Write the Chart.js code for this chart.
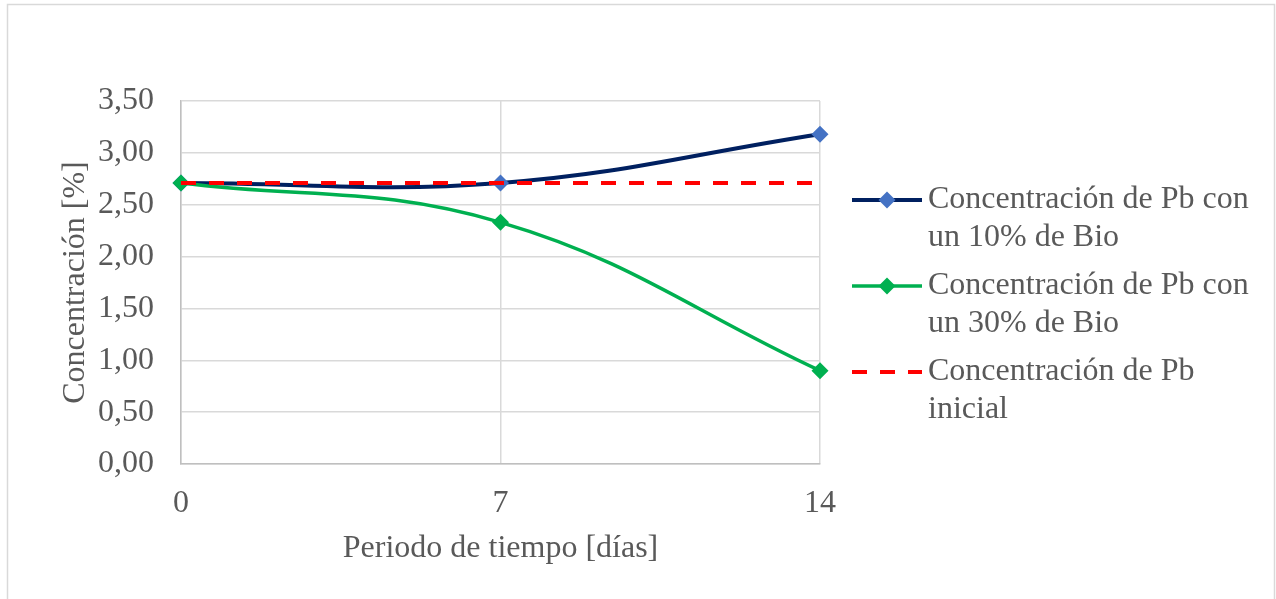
<!DOCTYPE html>
<html>
<head>
<meta charset="utf-8">
<script src="https://cdn.jsdelivr.net/npm/chart.js@4.4.1/dist/chart.umd.min.js"></script>
<style>
  html, body { margin: 0; padding: 0; background: #ffffff; }
  #wrap { width: 1276px; height: 599px; position: relative; }
</style>
</head>
<body>
<div id="wrap"><canvas id="c" width="1276" height="599"></canvas></div>
<script>
// Sampling days
const days = [0, 7, 14];

// Pb concentration (%) per series
const pb10 = [2.71, 2.71, 3.18];
const pb30 = [2.71, 2.33, 0.90];
const pbInicial = [2.71, 2.71, 2.71];

// Series names, split as they wrap in the legend
const name10 = ["Concentración de Pb con", "un 10% de Bio"];
const name30 = ["Concentración de Pb con", "un 30% de Bio"];
const nameInicial = ["Concentración de Pb", "inicial"];

// Axis texts and ticks
const xTitle = "Periodo de tiempo [días]";
const yTitle = "Concentración [%]";
const xTicks = [0, 7, 14];
const yTicks = [0, 0.5, 1, 1.5, 2, 2.5, 3, 3.5];

const FONT = "'Liberation Serif', 'Times New Roman', serif";
const TEXT = "#595959";
const FS = 32;

const toXY = (vals) => vals.map((v, i) => ({ x: days[i], y: v }));

// Outer frame of the chart object
const framePlugin = {
  id: 'frame',
  beforeDraw(chart) {
    const ctx = chart.ctx;
    ctx.save();
    ctx.fillStyle = '#ffffff';
    ctx.fillRect(0, 0, chart.width, chart.height);
    ctx.strokeStyle = '#d9d9d9';
    ctx.lineWidth = 1.5;
    ctx.strokeRect(7.5, 4.5, chart.width - 9, chart.height + 10);
    ctx.restore();
  }
};

// Legend on the right with wrapped names
const sideLegend = {
  id: 'sideLegend',
  afterDraw(chart) {
    const ctx = chart.ctx;
    const x0 = chart.chartArea.right + 32;
    const lineLen = 70;
    const textX = x0 + lineLen + 6;
    const rowH = 38;
    let y = 200;
    ctx.save();
    chart.data.datasets.forEach((ds) => {
      ctx.save();
      ctx.strokeStyle = ds.borderColor;
      ctx.lineWidth = ds.borderWidth;
      ctx.setLineDash(ds.borderDash || []);
      ctx.beginPath();
      ctx.moveTo(x0, y);
      ctx.lineTo(x0 + lineLen, y);
      ctx.stroke();
      ctx.restore();
      if (ds.pointRadius > 0) {
        const r = ds.pointRadius;
        const cx = x0 + lineLen / 2;
        ctx.fillStyle = ds.pointBackgroundColor;
        ctx.beginPath();
        ctx.moveTo(cx, y - r);
        ctx.lineTo(cx + r, y);
        ctx.lineTo(cx, y + r);
        ctx.lineTo(cx - r, y);
        ctx.closePath();
        ctx.fill();
      }
      ctx.fillStyle = TEXT;
      ctx.font = FS + "px " + FONT;
      ctx.textBaseline = 'middle';
      ctx.textAlign = 'left';
      ds.nameLines.forEach((ln, k) => {
        ctx.fillText(ln, textX, y + k * rowH);
      });
      y += 86;
    });
    ctx.restore();
  }
};

new Chart(document.getElementById('c'), {
  type: 'line',
  data: {
    datasets: [
      {
        label: name10.join(' '),
        nameLines: name10,
        data: toXY(pb10),
        borderColor: '#002060',
        borderWidth: 4,
        pointStyle: 'rectRot',
        pointRadius: 8.5,
        pointBackgroundColor: '#4472C4',
        pointBorderColor: '#4472C4',
        pointBorderWidth: 0,
        tension: 0.4,
        clip: false,
        order: 2
      },
      {
        label: name30.join(' '),
        nameLines: name30,
        data: toXY(pb30),
        borderColor: '#00B050',
        borderWidth: 3.5,
        pointStyle: 'rectRot',
        pointRadius: 8.5,
        pointBackgroundColor: '#00B050',
        pointBorderColor: '#00B050',
        pointBorderWidth: 0,
        tension: 0.4,
        clip: false,
        order: 1
      },
      {
        label: nameInicial.join(' '),
        nameLines: nameInicial,
        data: toXY(pbInicial),
        borderColor: '#FF0000',
        borderWidth: 4,
        borderDash: [15, 13],
        pointRadius: 0,
        tension: 0,
        clip: false,
        order: 0
      }
    ]
  },
  options: {
    responsive: false,
    animation: false,
    devicePixelRatio: 1,
    layout: { padding: { left: 56, right: 456, top: 101, bottom: 31 } },
    plugins: {
      legend: { display: false },
      tooltip: { enabled: false }
    },
    scales: {
      x: {
        type: 'linear',
        min: 0,
        max: 14,
        afterBuildTicks(scale) { scale.ticks = xTicks.map(v => ({ value: v })); },
        ticks: {
          color: TEXT,
          font: { family: FONT, size: FS },
          padding: 20,
          maxRotation: 0,
          callback: (v) => String(v)
        },
        grid: { color: '#d9d9d9', lineWidth: 1.5, drawTicks: false },
        border: { color: '#bfbfbf', width: 1.5 },
        title: {
          display: true,
          text: xTitle,
          color: TEXT,
          font: { family: FONT, size: FS },
          padding: 0
        },
        afterFit(scale) { scale.height = 104; }
      },
      y: {
        min: 0,
        max: 3.5,
        afterBuildTicks(scale) { scale.ticks = yTicks.map(v => ({ value: v })); },
        ticks: {
          color: TEXT,
          font: { family: FONT, size: FS },
          padding: 27,
          callback: (v) => Number(v).toFixed(2).replace('.', ',')
        },
        grid: { color: '#d9d9d9', lineWidth: 1.5, drawTicks: false },
        border: { color: '#bfbfbf', width: 1.5 },
        title: {
          display: true,
          text: yTitle,
          color: TEXT,
          font: { family: FONT, size: FS },
          padding: 0
        },
        afterFit(scale) { scale.width = 125; }
      }
    }
  },
  plugins: [framePlugin, sideLegend]
});
</script>
</body>
</html>
